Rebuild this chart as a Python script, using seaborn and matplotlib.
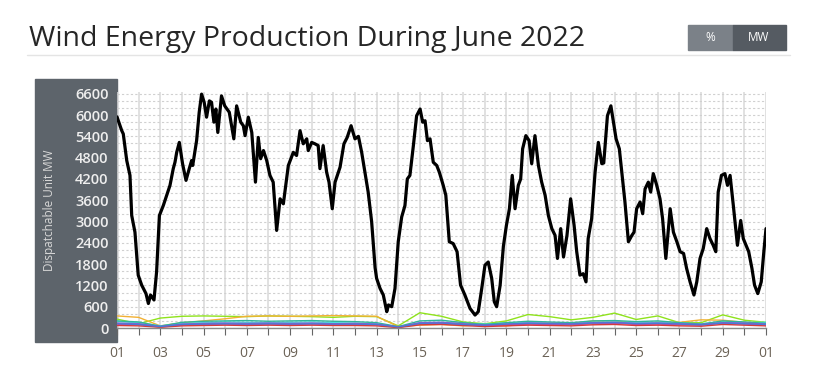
import numpy as np
import pandas as pd
import matplotlib
matplotlib.use('Agg')
import matplotlib.pyplot as plt
import seaborn as sns
from matplotlib.patches import Rectangle
from matplotlib.lines import Line2D

# Total wind production (black line): day of month and MW
dia_total = [1.00, 1.22, 1.29, 1.45, 1.60, 1.68, 1.83, 1.98, 2.14, 2.34, 2.45, 2.55, 2.71, 2.83, 2.96,
             3.14, 3.30, 3.45, 3.60, 3.68, 3.76, 3.88, 4.03, 4.19, 4.34, 4.45, 4.50, 4.68, 4.80, 4.91,
             5.03, 5.14, 5.27, 5.37, 5.48, 5.57, 5.66, 5.83, 5.98, 6.19, 6.40, 6.53, 6.72, 6.84, 6.92,
             7.07, 7.23, 7.40, 7.53, 7.64, 7.77, 7.92, 8.07, 8.22, 8.38, 8.54, 8.69, 8.92, 9.15, 9.30,
             9.46, 9.61, 9.77, 9.84, 10.00, 10.15, 10.30, 10.38, 10.53, 10.69, 10.80, 10.95, 11.08, 11.31,
             11.49, 11.64, 11.82, 12.00, 12.16, 12.31, 12.46, 12.61, 12.77, 12.93, 13.00, 13.16, 13.31,
             13.47, 13.55, 13.70, 13.85, 14.00, 14.16, 14.31, 14.42, 14.54, 14.70, 14.85, 15.01, 15.13,
             15.24, 15.35, 15.47, 15.62, 15.78, 15.90, 16.08, 16.20, 16.36, 16.54, 16.72, 16.88, 17.08,
             17.32, 17.55, 17.70, 17.86, 18.01, 18.16, 18.32, 18.44, 18.55, 18.71, 18.86, 19.00, 19.14,
             19.27, 19.40, 19.55, 19.66, 19.75, 19.90, 20.05, 20.17, 20.32, 20.48, 20.63, 20.79, 20.94,
             21.10, 21.25, 21.36, 21.51, 21.64, 21.80, 21.97, 22.13, 22.25, 22.40, 22.55, 22.68, 22.78,
             22.94, 23.10, 23.25, 23.41, 23.50, 23.67, 23.83, 23.95, 24.07, 24.22, 24.38, 24.48, 24.64,
             24.80, 24.90, 25.02, 25.18, 25.30, 25.41, 25.56, 25.67, 25.79, 25.95, 26.10, 26.22, 26.37,
             26.57, 26.72, 26.88, 27.03, 27.19, 27.33, 27.49, 27.67, 27.80, 27.95, 28.10, 28.26, 28.41,
             28.56, 28.68, 28.79, 28.94, 29.10, 29.22, 29.34, 29.49, 29.68, 29.83, 29.95, 30.20, 30.35,
             30.47, 30.62, 30.78, 30.90, 31.00]
mw_total = [5950, 5560, 5470, 4720, 4300, 3170, 2700, 1490, 1210, 970, 690, 930, 790, 1580, 3170,
            3450, 3740, 4020, 4490, 4670, 4950, 5230, 4630, 4160, 4490, 4720, 4580, 5280, 6080, 6590,
            6360, 5940, 6400, 6360, 5800, 6170, 5510, 6540, 6260, 6080, 5330, 6260, 5800, 5700, 5420,
            5940, 5510, 4110, 5370, 4770, 5000, 4720, 4300, 4110, 2750, 3640, 3500, 4580, 4950, 4860,
            5560, 5190, 5330, 5000, 5230, 5190, 5140, 4490, 5140, 4390, 4110, 3360, 4110, 4530,
            5190, 5370, 5700, 5330, 5400, 4950, 4390, 3830, 3000, 1700, 1400, 1115, 930,
            460, 650, 600, 1115, 2430, 3130, 3450, 4200, 4300, 5140, 5980, 6170, 5800,
            5840, 5280, 5330, 4670, 4580, 4390, 4020, 3740, 2430, 2380, 2150, 1210, 930,
            550, 365, 460, 1115, 1770, 1860, 1400, 740, 600, 1200, 2300, 2890, 3360,
            4300, 3360, 4020, 4200, 5050, 5420, 5280, 4630, 5420, 4580, 4110, 3740, 3170,
            2800, 2610, 1960, 2800, 2000, 2610, 3640, 2890, 2150, 1490, 1530, 1300, 2520,
            3080, 4390, 5230, 4630, 4650, 5980, 6260, 5800, 5330, 5050, 4110, 3550, 2430,
            2610, 2700, 3360, 3550, 3220, 3920, 4110, 3830, 4350, 4020, 3640, 3080, 1960,
            3360, 2700, 2430, 2150, 2100, 1680, 1300, 930, 1300, 1960, 2240, 2800, 2520,
            2330, 2150, 3830, 4300, 4350, 4020, 4300, 3450, 2330, 3030, 2520, 2150, 1680,
            1210, 970, 1300, 2150, 2800]

# Individual units (coloured lines near zero), one value per day
dias = list(range(1, 32))
unid_verde = [250, 120, 280, 330, 340, 330, 320, 340, 330, 320, 300, 330, 320, 60, 430, 330,
              170, 120, 200, 380, 320, 230, 300, 420, 240, 340, 150, 150, 370, 220, 160]
unid_laranja = [340, 300, 60, 150, 200, 260, 330, 340, 330, 340, 350, 340, 330, 40, 80, 100,
                60, 90, 60, 120, 150, 130, 200, 200, 130, 160, 160, 230, 220, 160, 120]
unid_ciano = [180, 150, 60, 130, 150, 170, 160, 150, 160, 170, 150, 140, 120, 30, 150, 160,
              130, 110, 140, 150, 140, 130, 160, 170, 150, 160, 140, 120, 170, 150, 160]
unid_teal = [200, 170, 50, 160, 190, 200, 210, 190, 200, 210, 190, 180, 150, 40, 200, 220,
             150, 100, 150, 190, 170, 150, 200, 210, 180, 200, 150, 110, 200, 170, 130]
unid_roxo = [140, 120, 40, 110, 130, 140, 130, 140, 130, 140, 120, 130, 110, 30, 150, 160,
             120, 80, 110, 140, 130, 120, 150, 160, 130, 140, 120, 100, 150, 140, 110]
unid_magenta = [100, 90, 30, 80, 100, 110, 100, 110, 100, 110, 100, 100, 90, 20, 120, 130,
                90, 60, 90, 110, 100, 90, 120, 130, 100, 110, 90, 80, 130, 110, 90]
unid_vermelho = [70, 60, 20, 60, 70, 80, 70, 80, 70, 80, 70, 70, 60, 10, 90, 100,
                 70, 40, 60, 80, 70, 60, 90, 100, 70, 80, 60, 50, 100, 80, 60]
unid_azul = [120, 100, 40, 100, 110, 120, 110, 120, 110, 120, 110, 110, 100, 30, 130, 140,
             100, 80, 110, 130, 120, 110, 140, 150, 120, 130, 110, 90, 140, 120, 100]

unidades = {
    '#8fe31c': unid_verde,
    '#f2b134': unid_laranja,
    '#46e0e0': unid_ciano,
    '#2fb59a': unid_teal,
    '#8e5bd0': unid_roxo,
    '#e03c9c': unid_magenta,
    '#d43a3a': unid_vermelho,
    '#4a78d8': unid_azul,
}

sns.set_theme(style="white")
plt.rcParams['font.family'] = ['Open Sans', 'DejaVu Sans']

fig = plt.figure(figsize=(8.4, 3.74), dpi=100)
ax = fig.add_axes([117 / 840, 46 / 374, 649 / 840, 236 / 374])
ax.set_zorder(2)
ax.patch.set_alpha(0)

# Painel cinza atras do eixo y
fig.patches.append(Rectangle((35 / 840, 1 - 342 / 374), 82 / 840, 263 / 374,
                             transform=fig.transFigure, color='#5d646b', zorder=-1))

# Linhas das unidades
for cor, valores in unidades.items():
    sns.lineplot(x=dias, y=valores, color=cor, linewidth=1.0, ax=ax, zorder=2)

# Linha total
sns.lineplot(x=dia_total, y=mw_total, color='black', linewidth=2.3, ax=ax, zorder=3, sort=False)

ax.set_xlim(1, 31)
ax.set_ylim(0, 6650)

ax.set_xticks(np.arange(1, 32, 2))
ax.set_xticklabels(['%02d' % d for d in list(range(1, 31, 2))] + ['01'])
ax.set_xticks(np.arange(1, 32, 1), minor=True)
ax.set_yticks(np.arange(0, 6601, 600))
ax.set_yticks(np.arange(0, 6601, 200), minor=True)

ax.grid(axis='x', which='both', color='#d9d9d9', linewidth=1.1)
ax.grid(axis='y', which='both', color='#d0d0d0', linewidth=0.8, linestyle=(0, (2, 2)))

ax.tick_params(axis='x', which='both', bottom=True, length=5, width=0.8, color='#666666',
               labelsize=10, labelcolor='#6b6256', pad=8)
ax.tick_params(axis='y', which='both', left=False, length=0, labelsize=10.5,
               labelcolor='#eeeeee', pad=6)
for rot in ax.get_yticklabels():
    rot.set_fontweight('semibold')

for lado in ['top', 'right', 'left']:
    ax.spines[lado].set_visible(False)
ax.spines['bottom'].set_color('#888888')
ax.spines['bottom'].set_linewidth(1.0)
ax.set_xlabel('')
ax.set_ylabel('')

fig.text(50 / 840, 1 - 210 / 374, 'Dispatchable Unit MW', rotation=90, ha='center', va='center',
         fontsize=8.5, color='#d8d8d8')

# Titulo e linha do cartao
fig.text(29 / 840, 1 - 39 / 374, 'Wind Energy Production During June 2022', ha='left', va='center',
         fontsize=20.5, color='#262626')
fig.lines.append(Line2D([27 / 840, 790 / 840], [1 - 55 / 374, 1 - 55 / 374],
                        transform=fig.transFigure, color='#e4e4e4', linewidth=1))

# Botoes % / MW
fig.patches.append(Rectangle((688 / 840, 1 - 50 / 374), 45 / 840, 25 / 374,
                             transform=fig.transFigure, color='#7b8188'))
fig.patches.append(Rectangle((733 / 840, 1 - 50 / 374), 53 / 840, 25 / 374,
                             transform=fig.transFigure, color='#555b62'))
fig.text(710 / 840, 1 - 37.5 / 374, '%', ha='center', va='center', fontsize=8.5, color='white')
fig.text(759 / 840, 1 - 37.5 / 374, 'MW', ha='center', va='center', fontsize=8.5, color='white')

plt.savefig('out.png', dpi=100)
